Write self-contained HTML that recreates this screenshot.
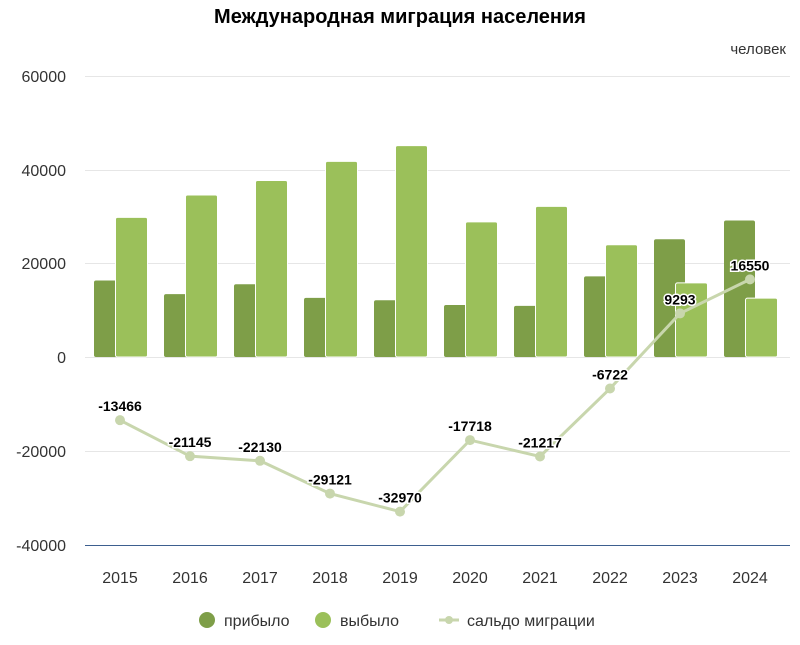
<!DOCTYPE html>
<html><head><meta charset="utf-8"><style>
html,body{margin:0;padding:0;background:#fff;}
text{font-family:"Liberation Sans",sans-serif;}
</style></head><body>
<svg width="800" height="640" xmlns="http://www.w3.org/2000/svg">
<text x="400" y="23" text-anchor="middle" font-size="20" font-weight="bold" fill="#000">Международная миграция населения</text>
<text x="786" y="54" text-anchor="end" font-size="15" fill="#333">человек</text>
<g stroke="#e6e6e6" stroke-width="1">
<line x1="85" x2="790" y1="76.5" y2="76.5"/>
<line x1="85" x2="790" y1="170.5" y2="170.5"/>
<line x1="85" x2="790" y1="263.5" y2="263.5"/>
<line x1="85" x2="790" y1="357.5" y2="357.5"/>
<line x1="85" x2="790" y1="451.5" y2="451.5"/>
</g>
<line x1="85" x2="790" y1="545.5" y2="545.5" stroke="#3d5f8f" stroke-width="1"/>
<g font-size="16" fill="#333" text-anchor="end">
<text x="66" y="82">60000</text>
<text x="66" y="176">40000</text>
<text x="66" y="269">20000</text>
<text x="66" y="363">0</text>
<text x="66" y="457">-20000</text>
<text x="66" y="551">-40000</text>
</g>
<g id="bars"></g>
<g font-size="16" fill="#333" text-anchor="middle" id="xl"></g>
<polyline id="ln" fill="none" stroke="#c8d6ad" stroke-width="3"/>
<g id="pts"></g>
<g id="lbl" font-size="14" font-weight="bold" text-anchor="middle"></g>
<circle cx="207" cy="620" r="8" fill="#7e9e48"/>
<text x="224" y="626" font-size="16" fill="#333">прибыло</text>
<circle cx="323" cy="620" r="8" fill="#9bc05a"/>
<text x="340" y="626" font-size="16" fill="#333">выбыло</text>
<line x1="439" x2="459" y1="620" y2="620" stroke="#c8d6ad" stroke-width="3"/>
<circle cx="449" cy="620" r="4" fill="#c8d6ad"/>
<text x="467" y="626" font-size="16" fill="#333">сальдо миграции</text>
</svg>
<script>
var ns="http://www.w3.org/2000/svg";
var yrs=[2015,2016,2017,2018,2019,2020,2021,2022,2023,2024];
var inn=[16300,13400,15500,12600,12100,11100,10900,17200,25100,29100];
var sal=[-13466,-21145,-22130,-29121,-32970,-17718,-21217,-6722,9293,16550];
function Y(v){return 357-v*0.00469;}
function el(t,a,p){var e=document.createElementNS(ns,t);for(var k in a)e.setAttribute(k,a[k]);document.getElementById(p).appendChild(e);return e;}
var pts=[];
for(var i=0;i<10;i++){
 var c=120+70*i, o=inn[i]-sal[i];
 el("rect",{x:c-26,y:Y(inn[i]),width:31,height:357-Y(inn[i]),rx:2,fill:"#7e9e48"},"bars");
 el("rect",{x:c-4.5,y:Y(o),width:32,height:357-Y(o),rx:2,fill:"#9bc05a",stroke:"#fff","stroke-width":1},"bars");
 var t=el("text",{x:c,y:583},"xl");t.textContent=yrs[i];
 pts.push(c+","+Y(sal[i]));
 el("circle",{cx:c,cy:Y(sal[i]),r:5,fill:"#c8d6ad"},"pts");
 var l=el("text",{x:c,y:Y(sal[i])-9,stroke:"#fff","stroke-width":3,"paint-order":"stroke",fill:"#000"},"lbl");l.textContent=sal[i];
}
document.getElementById("ln").setAttribute("points",pts.join(" "));
</script>
</body></html>
